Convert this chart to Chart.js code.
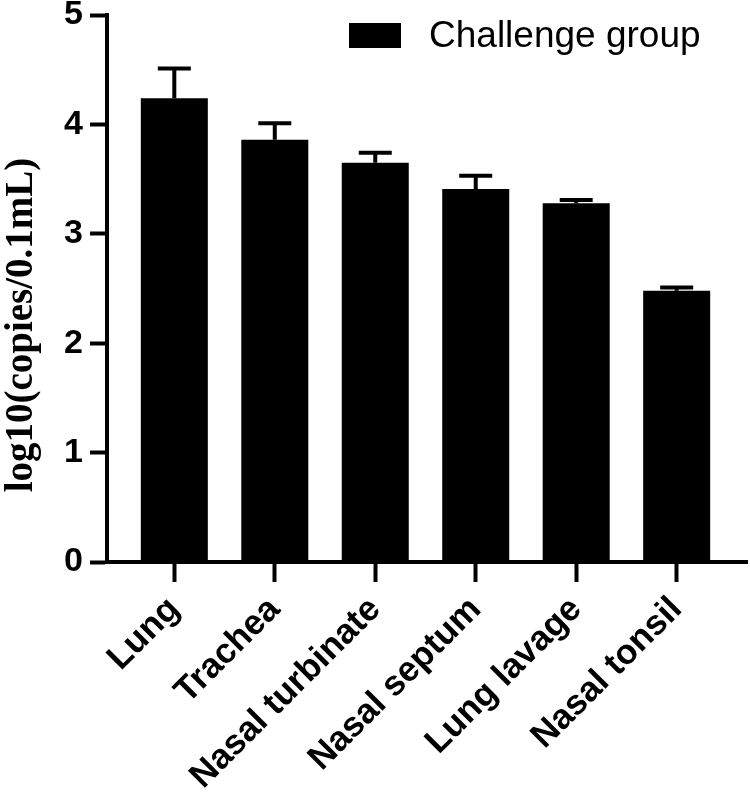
<!DOCTYPE html>
<html>
<head>
<meta charset="utf-8">
<title>Challenge group</title>
<script src="https://cdn.jsdelivr.net/npm/chart.js@4.4.0/dist/chart.umd.min.js"></script>
<style>
    html, body { margin: 0; padding: 0; background: #fff; }
    #wrap { width: 750px; height: 801px; }
</style>
</head>
<body>
<div id="wrap"><canvas id="chart" width="750" height="801"></canvas></div>
<script>
// Chart data
const categories = ['Lung', 'Trachea', 'Nasal turbinate', 'Nasal septum', 'Lung lavage', 'Nasal tonsil'];
const means = [4.24, 3.86, 3.65, 3.41, 3.28, 2.48];
const errorsUp = [0.27, 0.15, 0.09, 0.12, 0.03, 0.03];
const yTicks = [0, 1, 2, 3, 4, 5];
const seriesLabel = 'Challenge group';
const yTitle = 'log10(copies/0.1mL)';

// Error bars (upper only, GraphPad style)
const errorBarPlugin = {
    id: 'errorBars',
    afterDatasetsDraw(chart) {
        const ctx = chart.ctx;
        const yScale = chart.scales.y;
        const meta = chart.getDatasetMeta(0);
        ctx.save();
        ctx.strokeStyle = '#000';
        ctx.lineWidth = 4;
        meta.data.forEach((bar, i) => {
            const top = yScale.getPixelForValue(means[i] + errorsUp[i]);
            const base = yScale.getPixelForValue(means[i]);
            ctx.beginPath();
            ctx.moveTo(bar.x, base);
            ctx.lineTo(bar.x, top);
            ctx.moveTo(bar.x - 16.5, top);
            ctx.lineTo(bar.x + 16.5, top);
            ctx.stroke();
        });
        ctx.restore();
    }
};

// Legend and y title drawn by hand so they can sit where GraphPad put them
const decorPlugin = {
    id: 'decor',
    afterDraw(chart) {
        const ctx = chart.ctx;
        ctx.save();
        // legend
        ctx.fillStyle = '#000';
        ctx.fillRect(349, 23, 52, 25);
        ctx.font = '37px "Liberation Sans", Arial, sans-serif';
        ctx.textBaseline = 'middle';
        ctx.textAlign = 'left';
        ctx.fillText(chart.data.datasets[0].label, 429, 37);
        // y axis title
        ctx.translate(22, 325);
        ctx.rotate(-Math.PI / 2);
        ctx.font = 'bold 39px "Liberation Serif", "Times New Roman", serif';
        ctx.textAlign = 'center';
        ctx.textBaseline = 'middle';
        ctx.fillText(yTitle, 0, 0);
        ctx.restore();
    }
};

function createChart() {
    const ctx = document.getElementById('chart').getContext('2d');

    new Chart(ctx, {
        type: 'bar',
        data: {
            datasets: [{
                label: seriesLabel,
                data: categories.map((c, i) => ({ x: i, y: means[i] })),
                backgroundColor: '#000',
                borderWidth: 0,
                categoryPercentage: 1.0,
                barPercentage: 0.667
            }]
        },
        options: {
            responsive: false,
            animation: false,
            layout: {
                padding: { top: 15, right: 3, left: 0, bottom: 0 }
            },
            plugins: {
                legend: { display: false },
                tooltip: { enabled: false }
            },
            scales: {
                x: {
                    type: 'linear',
                    min: -0.67,
                    max: 5.7,
                    offset: false,
                    afterBuildTicks: (scale) => {
                        scale.ticks = categories.map((c, i) => ({ value: i }));
                    },
                    afterFit: (scale) => {
                        scale.height = 239;
                        scale.paddingLeft = 0;
                        scale.paddingRight = 0;
                    },
                    border: { display: true, color: '#000', width: 4 },
                    grid: {
                        display: true,
                        offset: false,
                        drawOnChartArea: false,
                        drawTicks: true,
                        tickLength: 20,
                        tickWidth: 4,
                        tickColor: '#000'
                    },
                    ticks: {
                        autoSkip: false,
                        minRotation: 45,
                        maxRotation: 45,
                        padding: 7,
                        color: '#000',
                        font: { family: '"Liberation Sans", Arial, sans-serif', size: 35, weight: 'bold' },
                        callback: (value) => categories[value]
                    }
                },
                y: {
                    min: 0,
                    max: 5,
                    afterBuildTicks: (scale) => {
                        scale.ticks = yTicks.map(v => ({ value: v }));
                    },
                    afterFit: (scale) => {
                        scale.width = 107;
                        scale.paddingTop = 0;
                        scale.paddingBottom = 0;
                    },
                    border: { display: true, color: '#000', width: 4 },
                    grid: {
                        display: true,
                        drawOnChartArea: false,
                        drawTicks: true,
                        tickLength: 17,
                        tickWidth: 4,
                        tickColor: '#000'
                    },
                    ticks: {
                        padding: 7,
                        color: '#000',
                        font: { family: '"Liberation Sans", Arial, sans-serif', size: 34, weight: 'bold' }
                    }
                }
            }
        },
        plugins: [errorBarPlugin, decorPlugin]
    });
}

// Initialize
document.addEventListener('DOMContentLoaded', () => {
    createChart();
});
</script>
</body>
</html>
